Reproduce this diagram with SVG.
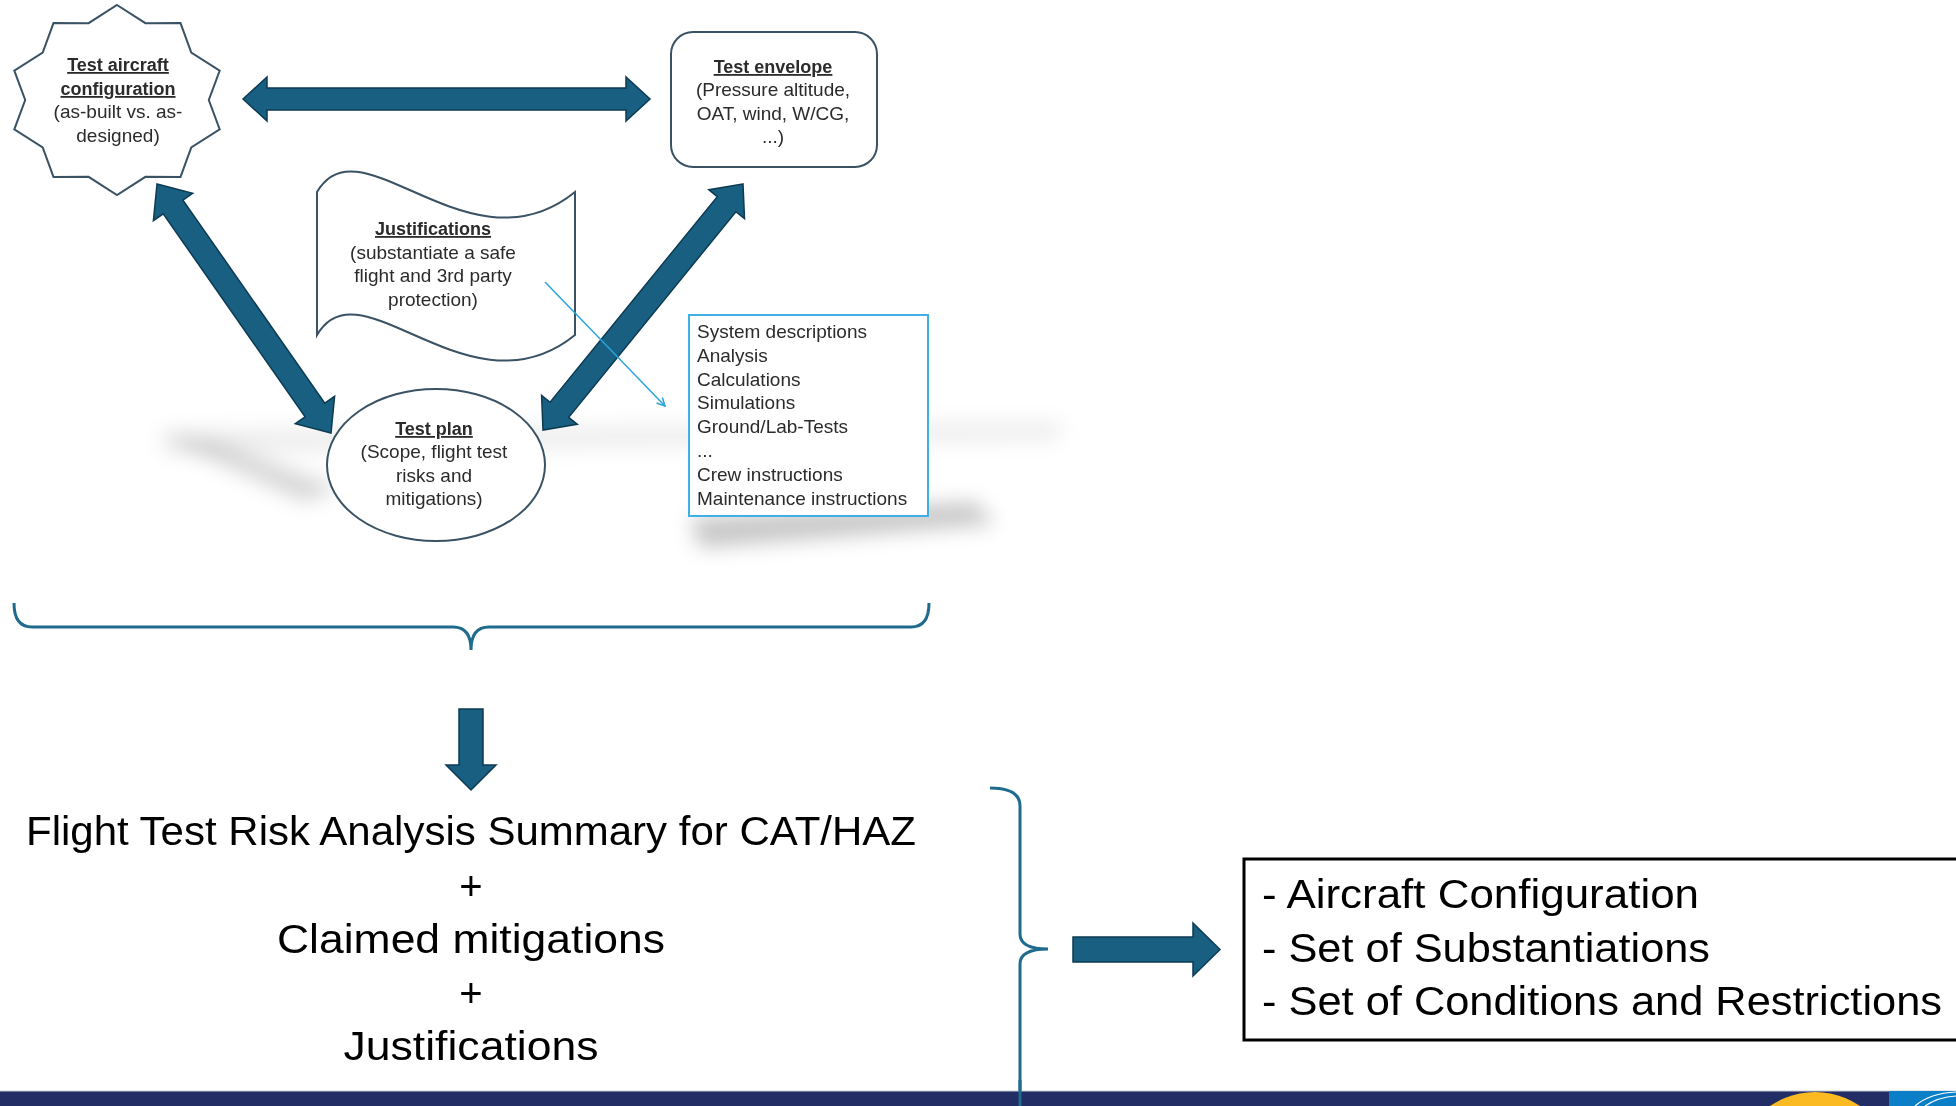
<svg xmlns="http://www.w3.org/2000/svg" width="1956" height="1106" viewBox="0 0 1956 1106">
<defs>
<style>
.t{font-family:"Liberation Sans",Arial,sans-serif;fill:#2b2b2b;}
.b{font-weight:bold;font-size:18px;text-decoration:underline;}
.r{font-size:19px;}
.big{font-family:"Liberation Sans",Arial,sans-serif;font-size:40px;fill:#000;}
.shape{fill:#fff;stroke:#3a5264;stroke-width:2;}
.arrow{fill:#185f82;stroke:#0d3b52;stroke-width:1.5;stroke-linejoin:miter;}
.brace{fill:none;stroke:#1f6b8e;stroke-width:3;}
</style>
<filter id="blur" x="-20%" y="-150%" width="140%" height="400%"><feGaussianBlur stdDeviation="10"/></filter>
<marker id="thin" viewBox="0 0 10 10" refX="9" refY="5" markerWidth="10" markerHeight="10" markerUnits="userSpaceOnUse" orient="auto"><path d="M1,1 L9,5 L1,9" fill="none" stroke="#2aa4dc" stroke-width="1.5"/></marker>
</defs>
<rect width="1956" height="1106" fill="#fff"/>
<g id="shadow" filter="url(#blur)">
<polygon points="165,430 1060,422 1060,440 165,454" fill="#000" opacity="0.07"/>
<polygon points="160,436 215,442 340,488 305,502" fill="#000" opacity="0.16"/>
<polygon points="690,518 975,502 995,524 700,548" fill="#000" opacity="0.22"/>
</g>
<g id="connectors">
<polygon class="arrow" points="243,99 267,77 267,88 626,88 626,77 650,99 626,121 626,110 267,110 267,121"/>
<polygon class="arrow" points="157,184 153.4,220.7 163.2,213.8 305.1,416.9 295.3,423.8 331,433 334.6,396.3 324.8,403.2 182.9,200.1 192.7,193.2"/>
<polygon class="arrow" points="743,184 708.8,189.7 717.3,196.6 550.1,402.3 541.6,395.3 543,430 577.3,424.3 568.7,417.4 735.9,211.7 744.5,218.7"/>
<path class="brace" d="M14,603 Q14,627 32,627 L453,627 Q471,627 471,650 Q471,627 489,627 L911,627 Q929,627 929,603"/>
<polygon class="arrow" points="459,709 483,709 483,765 496,765 471,790 446,765 459,765"/>
<path class="brace" d="M990,788 Q1020,788 1020,806 L1020,934 Q1020,949 1048,949 Q1020,949 1020,964 L1020,1106"/>
<polygon class="arrow" points="1073,937 1193,937 1193,923 1220,949.5 1193,976 1193,962 1073,962"/>
</g>
<g id="node-aircraft">
<polygon class="shape" points="117,5 145.4,23.2 180.5,23.1 191.3,52.5 219.7,70.6 208.8,100 219.7,129.4 191.3,147.5 180.5,176.9 145.4,176.8 117,195 88.6,176.8 53.5,176.9 42.7,147.5 14.3,129.4 25.2,100 14.3,70.6 42.7,52.5 53.5,23.1 88.6,23.2"/>
<text class="t b" x="118" y="71" text-anchor="middle">Test aircraft</text>
<text class="t b" x="118" y="95" text-anchor="middle">configuration</text>
<text class="t r" x="118" y="118" text-anchor="middle">(as-built vs. as-</text>
<text class="t r" x="118" y="142" text-anchor="middle">designed)</text>
</g>
<g id="node-envelope">
<rect class="shape" x="671" y="32" width="206" height="135" rx="22"/>
<text class="t b" x="773" y="73" text-anchor="middle">Test envelope</text>
<text class="t r" x="773" y="96" text-anchor="middle">(Pressure altitude,</text>
<text class="t r" x="773" y="120" text-anchor="middle">OAT, wind, W/CG,</text>
<text class="t r" x="773" y="143" text-anchor="middle">...)</text>
</g>
<g id="node-justifications">
<path class="shape" d="M317,192 C360,117 470,277 575,192 L575,335 C470,420 360,260 317,335 Z"/>
<text class="t b" x="433" y="235" text-anchor="middle">Justifications</text>
<text class="t r" x="433" y="259" text-anchor="middle">(substantiate a safe</text>
<text class="t r" x="433" y="282" text-anchor="middle">flight and 3rd party</text>
<text class="t r" x="433" y="306" text-anchor="middle">protection)</text>
</g>
<g id="node-testplan">
<ellipse class="shape" cx="436" cy="465" rx="109" ry="76"/>
<text class="t b" x="434" y="435" text-anchor="middle">Test plan</text>
<text class="t r" x="434" y="458" text-anchor="middle">(Scope, flight test</text>
<text class="t r" x="434" y="482" text-anchor="middle">risks and</text>
<text class="t r" x="434" y="505" text-anchor="middle">mitigations)</text>
</g>
<g id="node-list">
<rect x="689" y="315" width="239" height="201" fill="#fff" stroke="#3fb0e6" stroke-width="2"/>
<text class="t r" x="697" y="338">System descriptions</text>
<text class="t r" x="697" y="362">Analysis</text>
<text class="t r" x="697" y="386">Calculations</text>
<text class="t r" x="697" y="409">Simulations</text>
<text class="t r" x="697" y="433">Ground/Lab-Tests</text>
<text class="t r" x="697" y="457">...</text>
<text class="t r" x="697" y="481">Crew instructions</text>
<text class="t r" x="697" y="505">Maintenance instructions</text>
</g>
<g id="connectors-top">
<line x1="545" y1="282" x2="665" y2="406" stroke="#2aa4dc" stroke-width="1.5" marker-end="url(#thin)"/>
</g>
<g id="node-summary">
<text class="big" x="471" y="845" text-anchor="middle" textLength="890" lengthAdjust="spacingAndGlyphs">Flight Test Risk Analysis Summary for CAT/HAZ</text>
<text class="big" x="471" y="900" text-anchor="middle">+</text>
<text class="big" x="471" y="953" text-anchor="middle" textLength="388" lengthAdjust="spacingAndGlyphs">Claimed mitigations</text>
<text class="big" x="471" y="1007" text-anchor="middle">+</text>
<text class="big" x="471" y="1060" text-anchor="middle" textLength="255" lengthAdjust="spacingAndGlyphs">Justifications</text>
</g>
<g id="node-result">
<rect x="1244" y="859" width="740" height="181" fill="#fff" stroke="#000" stroke-width="3"/>
<text class="big" x="1262" y="908" textLength="437" lengthAdjust="spacingAndGlyphs">- Aircraft Configuration</text>
<text class="big" x="1262" y="962" textLength="448" lengthAdjust="spacingAndGlyphs">- Set of Substantiations</text>
<text class="big" x="1262" y="1015" textLength="680" lengthAdjust="spacingAndGlyphs">- Set of Conditions and Restrictions</text>
</g>
<g id="footer">
<rect x="0" y="1091" width="1956" height="15" fill="#212d64"/>
<line x1="0" y1="1091" x2="1956" y2="1091" stroke="#c8ccd8" stroke-width="1"/>
<circle cx="1815" cy="1171" r="79" fill="#fbba21"/>
<rect x="1889" y="1091" width="67" height="15" fill="#0a7fc8"/>
<path d="M1915,1106 Q1930,1093 1956,1092 M1925,1106 Q1938,1097 1956,1096" fill="none" stroke="#fff" stroke-width="1.2"/>
</g>
<path class="brace" d="M1020,1080 L1020,1106"/>
</svg>
